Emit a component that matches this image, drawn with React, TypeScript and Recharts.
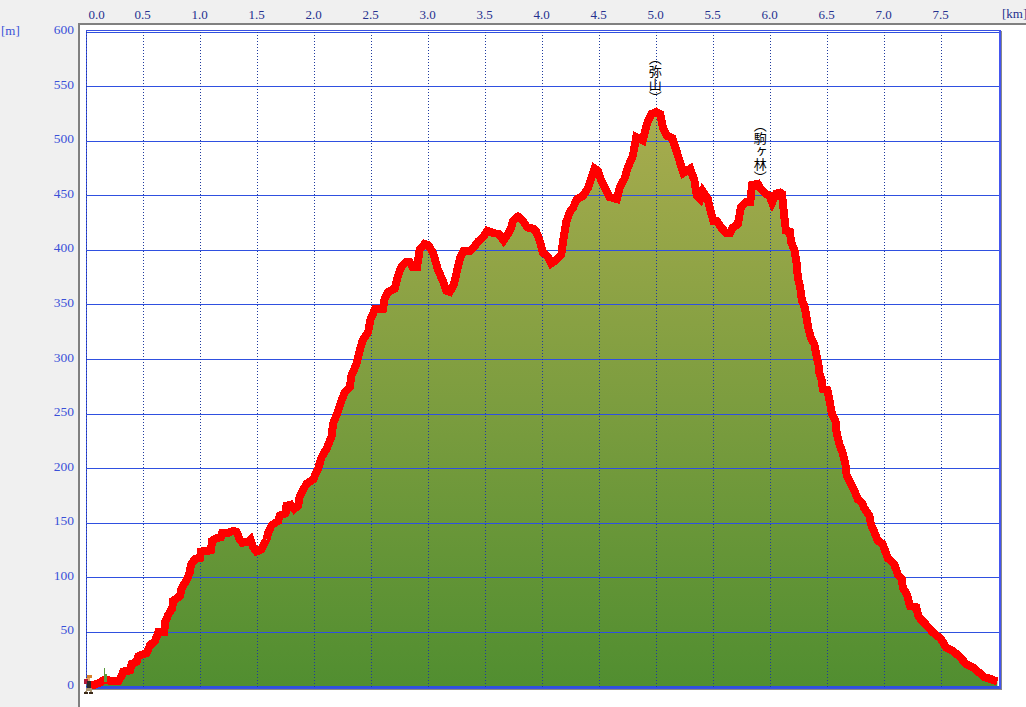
import React from 'react'
import {
  ComposedChart,
  Area,
  Line,
  XAxis,
  YAxis,
  ReferenceLine,
  ReferenceDot
} from 'recharts'

const distances = [
  0, 0.075, 0.118, 0.148, 0.191, 0.22, 0.279, 0.308, 0.323, 0.381, 0.396, 0.44, 0.454, 0.527, 0.557, 0.6, 0.63, 0.682,
  0.688, 0.717, 0.752, 0.761, 0.819, 0.834, 0.878, 0.907, 0.916, 0.951, 0.995, 1.004, 1.091, 1.103, 1.132, 1.179, 1.19,
  1.243, 1.287, 1.316, 1.345, 1.366, 1.418, 1.439, 1.462, 1.491, 1.535, 1.579, 1.594, 1.623, 1.681, 1.696, 1.746, 1.754,
  1.792, 1.822, 1.856, 1.871, 1.93, 1.988, 2.032, 2.06, 2.105, 2.149, 2.163, 2.207, 2.236, 2.265, 2.31, 2.324, 2.368,
  2.397, 2.42, 2.47, 2.491, 2.53, 2.6, 2.616, 2.645, 2.704, 2.733, 2.762, 2.8, 2.836, 2.859, 2.9, 2.923, 2.967, 2.996,
  3.04, 3.084, 3.127, 3.157, 3.186, 3.22, 3.245, 3.28, 3.303, 3.361, 3.39, 3.434, 3.478, 3.516, 3.566, 3.616, 3.659,
  3.697, 3.727, 3.741, 3.785, 3.829, 3.867, 3.916, 3.945, 3.975, 4.004, 4.048, 4.077, 4.12, 4.165, 4.18, 4.208, 4.238,
  4.267, 4.302, 4.355, 4.398, 4.427, 4.457, 4.486, 4.515, 4.558, 4.588, 4.652, 4.675, 4.72, 4.748, 4.793, 4.822, 4.88,
  4.916, 4.954, 4.998, 5.033, 5.057, 5.09, 5.138, 5.173, 5.202, 5.237, 5.296, 5.333, 5.354, 5.383, 5.406, 5.45, 5.479,
  5.5, 5.53, 5.567, 5.61, 5.646, 5.669, 5.713, 5.742, 5.786, 5.822, 5.838, 5.888, 5.917, 5.955, 5.99, 6.014, 6.049,
  6.084, 6.1, 6.122, 6.136, 6.171, 6.18, 6.21, 6.23, 6.24, 6.26, 6.276, 6.3, 6.32, 6.335, 6.355, 6.385, 6.4, 6.42, 6.43,
  6.45, 6.458, 6.5, 6.52, 6.54, 6.57, 6.58, 6.603, 6.63, 6.656, 6.668, 6.706, 6.735, 6.765, 6.8, 6.826, 6.867, 6.881,
  6.91, 6.94, 6.984, 7.004, 7.028, 7.087, 7.116, 7.154, 7.16, 7.195, 7.224, 7.277, 7.3, 7.364, 7.423, 7.495, 7.54,
  7.597, 7.656, 7.715, 7.773, 7.83, 7.875, 7.933, 7.99
]

const elevations = [
  2, 2, 4, 6, 6, 5, 5, 10, 14, 15, 21, 23, 28, 31, 38, 42, 50, 50, 59, 66, 72, 79, 83, 90, 98, 105, 112, 117, 118, 124,
  125, 134, 136, 137, 141, 141, 143, 142, 135, 132, 133, 135, 128, 124, 126, 135, 141, 148, 152, 157, 159, 166, 167, 163,
  166, 175, 186, 190, 200, 210, 218, 229, 241, 253, 262, 270, 275, 285, 296, 308, 317, 325, 337, 346, 346, 356, 362, 365,
  377, 385, 389, 389, 385, 385, 401, 406, 405, 398, 382, 372, 363, 362, 368, 379, 394, 399, 399, 402, 408, 412, 418, 416,
  415, 409, 415, 421, 427, 431, 427, 421, 420, 417, 409, 398, 394, 388, 391, 396, 408, 426, 435, 439, 447, 450, 457, 466,
  475, 473, 464, 455, 449, 447, 457, 466, 476, 487, 504, 501, 516, 525, 527, 525, 512, 505, 503, 492, 482, 471, 475, 464,
  450, 447, 454, 447, 434, 427, 427, 421, 416, 416, 421, 424, 440, 444, 444, 460, 461, 456, 452, 450, 444, 452, 453, 452,
  430, 418, 417, 408, 400, 388, 375, 366, 354, 348, 336, 327, 320, 314, 305, 296, 287, 281, 273, 272, 261, 250, 244, 233,
  223, 215, 205, 194, 186, 180, 172, 169, 163, 157, 149, 142, 134, 131, 125, 118, 112, 103, 99, 91, 85, 74, 73, 64, 57,
  50, 44, 36, 33, 28, 21, 18, 13, 9, 7, 5
]

const kmTicks = [0, 0.5, 1, 1.5, 2, 2.5, 3, 3.5, 4, 4.5, 5, 5.5, 6, 6.5, 7, 7.5]
const meterTicks = [0, 50, 100, 150, 200, 250, 300, 350, 400, 450, 500, 550, 600]
const peakLabels = [
  { name: '（弥山）', km: 4.99, top: 582 },
  { name: '（駒ヶ林）', km: 5.91, top: 521 }
]

const data = distances.map((km, i) => ({ km, elevation: elevations[i] }))

const tickFont = 'Liberation Serif, serif'

function KmTick({ x, payload }: any) {
  // the first label sits to the right of its gridline
  const shift = payload.value === 0 ? 10 : -1
  return (
    <text x={x + shift} y={19} textAnchor="middle" fontFamily={tickFont} fontSize={13} fill="#25318f">
      {payload.value.toFixed(1)}
    </text>
  )
}

function MeterTick({ y, payload }: any) {
  return (
    <text x={74} y={y + 2} textAnchor="end" fontFamily={tickFont} fontSize={13.5} fill="#3a50d8">
      {payload.value}
    </text>
  )
}

function PeakName({ cx, cy, name }: any) {
  return (
    <text
      x={cx}
      y={cy}
      fontFamily="Noto Sans CJK JP"
      fontSize={13}
      fill="#000"
      style={{ writingMode: 'vertical-rl' }}
    >
      {name}
    </text>
  )
}

function Hiker({ cx, cy }: any) {
  return (
    <g shapeRendering="crispEdges">
      <rect x={cx} y={cy - 12} width={5} height={3} fill="#d9822b" />
      <rect x={cx - 1} y={cy - 9} width={4} height={3} fill="#e8a868" />
      <rect x={cx - 3} y={cy - 8} width={4} height={5} fill="#b01c3c" />
      <rect x={cx} y={cy - 6} width={4} height={7} fill="#2a2a2a" />
      <rect x={cx - 1} y={cy + 1} width={6} height={3} fill="#a89470" />
      <rect x={cx - 2} y={cy + 4} width={2} height={3} fill="#a89470" />
      <rect x={cx + 3} y={cy + 4} width={2} height={3} fill="#a89470" />
      <rect x={cx - 3} y={cy + 5} width={4} height={2} fill="#3a2a1a" />
      <rect x={cx + 2} y={cy + 5} width={4} height={2} fill="#3a2a1a" />
    </g>
  )
}

function Flag({ cx, cy }: any) {
  return (
    <g shapeRendering="crispEdges" fill="#5b9a3c">
      <rect x={cx} y={cy - 19} width={1} height={14} />
      <rect x={cx + 1} y={cy - 13} width={2} height={8} />
    </g>
  )
}

export default function App() {
  return (
    <div style={{ position: 'absolute', left: 0, top: 0, width: 1026, height: 707, overflow: 'hidden', background: '#f0f0f0' }}>
      <div
        style={{
          position: 'absolute',
          left: 78,
          top: 23,
          width: 948,
          height: 684,
          background: '#fff',
          borderLeft: '2px solid #808080',
          borderTop: '2px solid #808080',
          boxSizing: 'border-box'
        }}
      />
      <span style={{ position: 'absolute', left: 1, top: 23, font: '13px Liberation Serif', color: '#3a50d8' }}>[m]</span>
      <span style={{ position: 'absolute', left: 1002, top: 6, font: '13px Liberation Serif', color: '#25318f' }}>[km]</span>
      <div
        style={{
          position: 'absolute',
          left: 86,
          top: 30,
          width: 912,
          height: 656,
          borderLeft: '1px solid #3a50e0',
          borderTop: '1px solid #3a50e0',
          borderRight: '2px solid #4455f0',
          borderBottom: '2px solid #3a50e0',
          boxShadow: '1px 1px 0 #888'
        }}
      />
      <div style={{ position: 'absolute', left: 0, top: 0 }}>
        <ComposedChart width={1026} height={707} data={data} margin={{ top: 0.2, right: 27.5, bottom: 20.2, left: 0.5 }}>
          <defs>
            <linearGradient id="groundFill" x1="0" y1="0" x2="0" y2="1">
              <stop offset="0%" stopColor="#a8ac4e" />
              <stop offset="100%" stopColor="#518e30" />
            </linearGradient>
          </defs>
          <XAxis
            dataKey="km"
            type="number"
            orientation="top"
            domain={[0, 8]}
            ticks={kmTicks}
            height={32}
            axisLine={false}
            tickLine={false}
            tick={<KmTick />}
            interval={0}
          />
          <YAxis
            type="number"
            domain={[0, 600]}
            ticks={meterTicks}
            width={86}
            axisLine={false}
            tickLine={false}
            tick={<MeterTick />}
            interval={0}
          />
          <Area
            dataKey="elevation"
            type="linear"
            fill="url(#groundFill)"
            fillOpacity={1}
            stroke="none"
            isAnimationActive={false}
          />
          {meterTicks.map((m) => (
            <ReferenceLine
              key={m}
              y={m}
              stroke="#2f50e0"
              strokeWidth={m === 0 ? 2 : 1}
              shapeRendering="crispEdges"
            />
          ))}
          {kmTicks.map((k) => (
            <ReferenceLine
              key={k}
              x={k}
              stroke="#1f3a9f"
              strokeWidth={1}
              strokeDasharray="1 2"
              shapeRendering="crispEdges"
            />
          ))}
          <Line
            dataKey="elevation"
            type="linear"
            stroke="#ff0000"
            strokeWidth={8}
            dot={false}
            activeDot={false}
            shapeRendering="crispEdges"
            isAnimationActive={false}
          />
          {peakLabels.map((p) => (
            <ReferenceDot
              key={p.name}
              x={p.km}
              y={p.top}
              ifOverflow="visible"
              shape={(props: any) => <PeakName {...props} name={p.name} />}
            />
          ))}
          <ReferenceDot x={0} y={0} ifOverflow="visible" shape={(props: any) => <Hiker {...props} />} />
          <ReferenceDot x={0.155} y={0} ifOverflow="visible" shape={(props: any) => <Flag {...props} />} />
        </ComposedChart>
      </div>
    </div>
  )
}
